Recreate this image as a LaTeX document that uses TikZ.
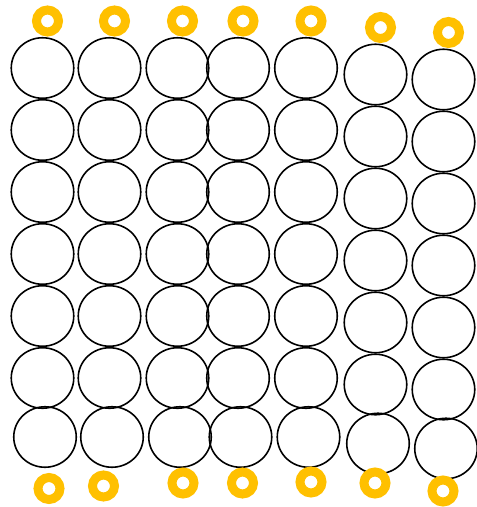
\documentclass[tikz,border=0pt]{standalone}
\usetikzlibrary{shapes.geometric}
\definecolor{ringgold}{RGB}{255,192,0}

\begin{document}
\begin{tikzpicture}[
    x=1pt, y=-1pt,
    cell/.style={
        draw, ellipse, line width=1.6pt,
        minimum width=62.5pt, minimum height=60.5pt, inner sep=0pt,
    },
    ring/.style={
        circle, draw=ringgold, line width=9pt,
        minimum size=22pt, inner sep=0pt,
    },
]
\useasboundingbox (0,0) rectangle (477,507);

% columns: index / x / vertical shift
\foreach \c/\x/\dy in {1/42.5/0, 2/109.5/0, 3/177.5/0, 4/238/0, 5/306/0, 6/375.5/6.5, 7/443.5/11.5} {
    \foreach \r/\y in {1/68, 2/130, 3/192, 4/254, 5/316, 6/378}
        \node[cell] (c\c-\r) at (\x, \y+\dy) {};
    \node[cell] (c\c-7) at (\x+2.5, 437+\dy) {};
    % top ring
    \node[ring] (t\c) at (\x+5, 21+\dy) {};
}

% bottom rings
\foreach \c/\x/\y in {1/49/488.5, 2/103.5/486, 3/183/483, 4/242.5/483, 5/311/482, 6/375/483, 7/443/491}
    \node[ring] (b\c) at (\x, \y) {};

\end{tikzpicture}
\end{document}
